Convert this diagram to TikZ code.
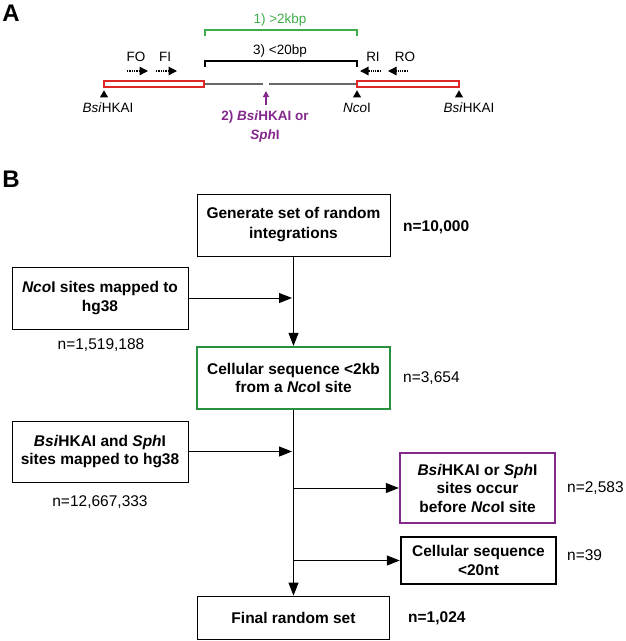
\documentclass[tikz,border=0pt]{standalone}
\usepackage{fontspec}
\setmainfont{Liberation Sans}
\usetikzlibrary{arrows.meta,shapes.geometric}
\definecolor{bracketgreen}{RGB}{62,172,74}
\definecolor{boxgreen}{RGB}{40,145,62}
\definecolor{cutpurple}{RGB}{132,40,140}
\definecolor{vecred}{RGB}{222,40,40}
\definecolor{cellgrey}{RGB}{105,105,105}

\begin{document}
\begin{tikzpicture}[x=1pt,y=-1pt,>={Triangle[length=13pt,width=10pt]}]
     \useasboundingbox (0,0) rectangle (625,641);
     \tikzstyle{panel} = [font=\fontsize{24}{24}\selectfont\bfseries,inner sep=0pt]
     \tikzstyle{maplabel} = [font=\fontsize{13.5}{19}\selectfont,inner sep=0pt,align=center]
     \tikzstyle{site} = [regular polygon,regular polygon sides=3,fill=black,inner sep=0pt,minimum size=9.5pt]
     \tikzstyle{vector} = [draw=vecred,line width=1.1pt,fill=white,minimum width=100pt,minimum height=6pt,inner sep=0pt]
     \tikzstyle{primer} = [densely dotted,line width=1.3pt,-{Triangle[length=8.5pt,width=8.5pt]}]
     \tikzstyle{stepbox} = [draw,line width=0.8pt,align=center,inner sep=0pt,font=\fontsize{15.5}{18.5}\selectfont\bfseries]
     \tikzstyle{count} = [font=\fontsize{15.5}{18.5}\selectfont,inner sep=0pt,anchor=west]
     \node[panel] (pa) at (11,13) {A};
     \node[panel] (pb) at (11,179) {B};
     \node[maplabel,text=bracketgreen] (long) at (280,20) {1) >2kbp};
     \node[maplabel] (short) at (280,51) {3) <20bp};
     \draw[bracketgreen,line width=2pt] (205,36) -- (205,30) -- (357,30) -- (357,36);
     \draw[line width=2.6pt] (205,67) -- (205,61) -- (357,61) -- (357,67);
     \node[maplabel] (fo) at (136,57) {FO};
     \node[maplabel] (fi) at (165,57) {FI};
     \node[maplabel] (ri) at (373,57) {RI};
     \node[maplabel] (ro) at (405,57) {RO};
     \coordinate (fo1) at (127,71);
     \coordinate (fo2) at (148,71);
     \coordinate (fi1) at (156,71);
     \coordinate (fi2) at (177,71);
     \coordinate (ri1) at (381,71);
     \coordinate (ri2) at (360,71);
     \coordinate (ro1) at (408,71);
     \coordinate (ro2) at (388,71);
     \draw [primer] (fo1) to (fo2);
     \draw [primer] (fi1) to (fi2);
     \draw [primer] (ri1) to (ri2);
     \draw [primer] (ro1) to (ro2);
     \node[vector] (vecleft) at (154,84) {};
     \node[vector,minimum width=102pt] (vecright) at (408,84) {};
     \coordinate (cutl) at (263,84);
     \coordinate (cutr) at (269,84);
     \draw [cellgrey,line width=1.5pt] (vecleft) to (cutl);
     \draw [cellgrey,line width=1.5pt] (cutr) to (vecright);
     \node[site] (bsil) at (104,95) {};
     \node[site] (nco) at (357,95) {};
     \node[site] (bsir) at (459,95) {};
     \node[maplabel] (bsillbl) at (108,108) {\textit{Bsi}HKAI};
     \node[maplabel] (ncolbl) at (357,108) {\textit{Nco}I};
     \node[maplabel] (bsirlbl) at (469,108) {\textit{Bsi}HKAI};
     \coordinate (cuttail) at (266,105);
     \coordinate (cut) at (266,91);
     \draw [cutpurple,line width=1.2pt,-{Triangle[length=6pt,width=6pt]}] (cuttail) to (cut);
     \node[maplabel,text=cutpurple,font=\fontsize{13.5}{19}\selectfont\bfseries] (cutlbl) at (265,126.5) {2) \textit{Bsi}HKAI or\\\textit{Sph}I};
     \node[stepbox,minimum width=193pt,minimum height=62pt] (generate) at (293.5,225) {Generate set of random\\[1.5pt]integrations};
     \node[stepbox,minimum width=176pt,minimum height=62pt] (ncomap) at (100,298) {\textit{Nco}I sites mapped to\\hg38};
     \node[stepbox,draw=boxgreen,line width=2.3pt,minimum width=193pt,minimum height=62pt] (within) at (293.5,378) {Cellular sequence <2kb\\from a \textit{Nco}I site};
     \node[stepbox,minimum width=176pt,minimum height=61pt] (bsimap) at (100,451.5) {\textit{Bsi}HKAI and \textit{Sph}I\\sites mapped to hg38};
     \node[stepbox,draw=cutpurple,line width=2.3pt,minimum width=155pt,minimum height=70pt] (sitecut) at (477.5,488) {\textit{Bsi}HKAI or \textit{Sph}I\\sites occur\\before \textit{Nco}I site};
     \node[stepbox,line width=2.5pt,minimum width=155pt,minimum height=47pt] (tooshort) at (478.5,560.5) {Cellular sequence\\<20nt};
     \node[stepbox,minimum width=192pt,minimum height=43pt] (final) at (293.5,617.5) {Final random set};
     \node[count,font=\fontsize{15.5}{18.5}\selectfont\bfseries] (ngen) at (403,227) {n=10,000};
     \node[count,anchor=center] (nnco) at (101,345) {n=1,519,188};
     \node[count] (nwithin) at (403,378) {n=3,654};
     \node[count,anchor=center] (nbsi) at (100,502) {n=12,667,333};
     \node[count] (ncut) at (567,488) {n=2,583};
     \node[count] (nshort) at (567,555) {n=39};
     \node[count,font=\fontsize{15.5}{18.5}\selectfont\bfseries] (nfinal) at (408,618) {n=1,024};
     \coordinate (j1) at (292,298);
     \coordinate (j2) at (292,451.5);
     \coordinate (j3) at (293.5,488);
     \coordinate (j4) at (293.5,560.5);
     \draw [->,line width=1pt] (generate) to (within);
     \draw [->,line width=1pt] (within) to (final);
     \draw [->,line width=1pt] (ncomap) to (j1);
     \draw [->,line width=1pt] (bsimap) to (j2);
     \draw [->,line width=1pt] (j3) to (sitecut);
     \draw [->,line width=1pt] (j4) to (tooshort);
   \end{tikzpicture}
\end{document}
